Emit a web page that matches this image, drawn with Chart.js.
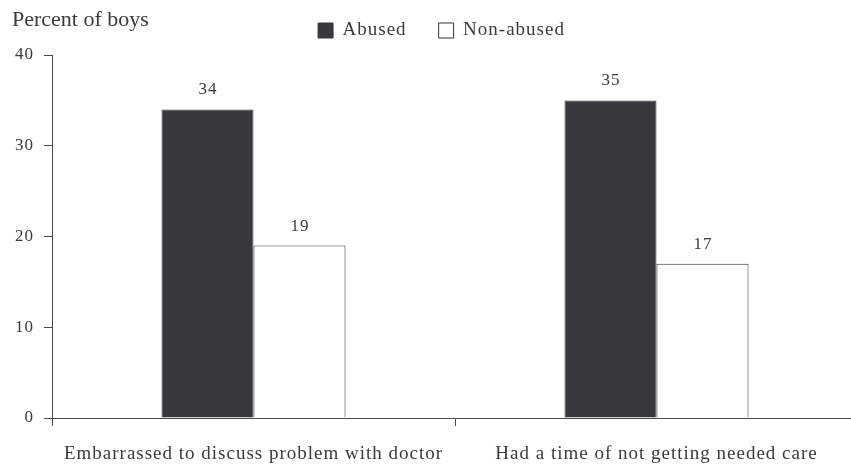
<!DOCTYPE html>
<html>
<head>
<meta charset="utf-8">
<script src="https://cdn.jsdelivr.net/npm/chart.js@4/dist/chart.umd.min.js"></script>
<style>
  html, body { margin: 0; padding: 0; overflow: hidden; background: #ffffff; }
  #wrap { position: relative; width: 883px; height: 466px; }
</style>
</head>
<body>
<div id="wrap"><canvas id="chart"></canvas></div>
<script>
// Survey results: share of boys reporting each barrier to care
const categories = ['Embarrassed to discuss problem with doctor', 'Had a time of not getting needed care'];
const seriesNames = ['Abused', 'Non-abused'];
const abusedValues = [34, 35];
const nonAbusedValues = [19, 17];
const yTicks = [0, 10, 20, 30, 40];
const yCaption = 'Percent of boys';

const INK = '#3a3a3a';
const BAR_DARK = '#38373c';
const AXIS = '#4a4a4a';
const SERIF = "'Liberation Serif', 'Times New Roman', serif";

// Slightly tracked-out lettering for all chart text
const tracking = {
  id: 'tracking',
  beforeLayout(chart) { chart.ctx.letterSpacing = '1px'; },
  beforeDraw(chart) { chart.ctx.letterSpacing = '1px'; }
};

// Unit caption above the value axis
const caption = {
  id: 'caption',
  afterDraw(chart) {
    const ctx = chart.ctx;
    ctx.save();
    ctx.letterSpacing = '0px';
    ctx.font = '22px ' + SERIF;
    ctx.fillStyle = INK;
    ctx.textAlign = 'left';
    ctx.textBaseline = 'alphabetic';
    ctx.fillText(yCaption, 12, 26);
    ctx.restore();
  }
};

// Value printed above each bar
const valueLabels = {
  id: 'valueLabels',
  afterDatasetsDraw(chart) {
    const ctx = chart.ctx;
    ctx.save();
    ctx.letterSpacing = '1px';
    ctx.font = '17px ' + SERIF;
    ctx.fillStyle = INK;
    ctx.textAlign = 'center';
    ctx.textBaseline = 'alphabetic';
    chart.data.datasets.forEach((ds, di) => {
      chart.getDatasetMeta(di).data.forEach((bar, i) => {
        ctx.fillText(String(ds.data[i]), bar.x + 0.5, bar.y - 15);
      });
    });
    ctx.restore();
  }
};

new Chart(document.getElementById('chart'), {
  type: 'bar',
  data: {
    labels: categories,
    datasets: [
      { label: seriesNames[0], data: abusedValues, backgroundColor: BAR_DARK, borderColor: BAR_DARK, borderWidth: 1 },
      { label: seriesNames[1], data: nonAbusedValues, backgroundColor: '#ffffff', borderColor: '#333333', borderWidth: 1 }
    ]
  },
  options: {
    responsive: true,
    maintainAspectRatio: false,
    animation: false,
    layout: { padding: { left: 0, right: 0, top: -11, bottom: 0 } },
    datasets: { bar: { categoryPercentage: 0.4566, barPercentage: 1 } },
    plugins: {
      legend: {
        position: 'top',
        align: 'center',
        labels: { boxWidth: 15, boxHeight: 15, padding: 32, color: INK, font: { family: SERIF, size: 19 } }
      },
      // thin spacer between the key and the plot
      title: { display: true, text: '', weight: 500, font: { size: 5, lineHeight: 1 }, padding: 0 },
      tooltip: { enabled: false }
    },
    scales: {
      x: {
        grid: { drawOnChartArea: false, offset: true, tickLength: 8, color: AXIS },
        border: { color: AXIS },
        ticks: { color: INK, font: { family: SERIF, size: 19 }, padding: 17, maxRotation: 0, autoSkip: false },
        afterFit(scale) { scale.height = 48; }
      },
      y: {
        min: 0,
        max: 40,
        afterBuildTicks(scale) { scale.ticks = yTicks.map(v => ({ value: v })); },
        grid: { drawOnChartArea: false, tickLength: 8, color: AXIS },
        border: { color: AXIS },
        ticks: { color: INK, font: { family: SERIF, size: 17 }, padding: 10 },
        afterFit(scale) { scale.width = 52; }
      },
      // empty right-hand margin beyond the plot
      gutter: {
        type: 'linear',
        position: 'right',
        grid: { display: false },
        border: { display: false },
        ticks: { display: false },
        afterFit(scale) { scale.width = 25; }
      }
    }
  },
  plugins: [tracking, caption, valueLabels]
});
</script>
</body>
</html>
